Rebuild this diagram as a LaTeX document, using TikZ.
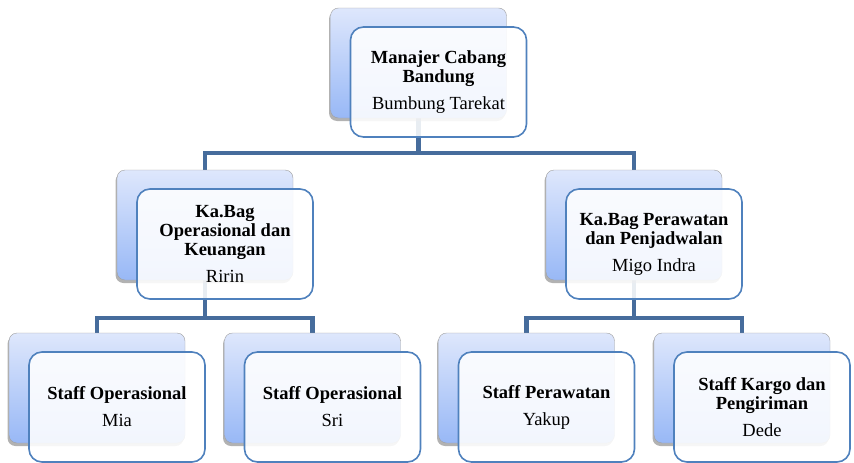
\documentclass[tikz,border=0pt]{standalone}
\usepackage{fontspec}
\setmainfont{Liberation Serif}
\usepackage{tikz}
\usetikzlibrary{calc,backgrounds,shadows}
\definecolor{cLine}  {RGB}{70,108,156}
\definecolor{cBord}  {RGB}{79,129,189}
\definecolor{cBackT} {RGB}{222,231,252}
\definecolor{cBackB} {RGB}{152,184,246}
\tikzset{
  back/.style={draw=gray!75,rounded corners=8pt,minimum width=176pt,minimum height=110pt,
               top color=cBackT,bottom color=cBackB,
               drop shadow={shadow xshift=-1.5pt,shadow yshift=-3pt,opacity=0.55,fill=black!55}}, % rear card
  front/.style={draw=cBord,line width=1.6pt,rounded corners=13pt,minimum width=176pt,
                minimum height=110pt,fill=white,fill opacity=0.88,text opacity=1,
                text width=168pt,align=flush center,font=\fontsize{18.5}{19}\selectfont}, % text card
  conn/.style={draw=cLine,line width=4.5pt},
}
% pair of cards: #1 name #2 x #3 y #4 title #5 person
\newcommand{\orgbox}[5]{%
  \node[back] (#1) at (#2,#3) {};
  \node[front] (#1f) at ([shift={(20,19)}]#1.center) {#4\\[8pt]#5};}
\begin{document}
\begin{tikzpicture}[x=1pt,y=-1pt]
  \useasboundingbox (0,0) rectangle (854,463);
  % ---- cards ----
  \orgbox{b0}{418.5}{63}{\textbf{Manajer Cabang}\\\textbf{Bandung}}{Bumbung Tarekat}
  \orgbox{b1}{205}{225}{\textbf{Ka.Bag}\\\textbf{Operasional dan}\\\textbf{Keuangan}}{Ririn}
  \orgbox{b2}{634}{225}{\textbf{Ka.Bag Perawatan}\\\textbf{dan Penjadwalan}}{Migo Indra}
  \orgbox{b3}{97}{388}{\textbf{Staff Operasional}}{Mia}
  \orgbox{b4}{312.5}{388}{\textbf{Staff Operasional}}{Sri}
  \orgbox{b5}{526.5}{388}{\textbf{Staff Perawatan}}{Yakup}
  \orgbox{b6}{742}{388}{\textbf{Staff Kargo dan}\\\textbf{Pengiriman}}{Dede}

  % ---- connectors (behind the cards) ----
  \coordinate (j0) at (418.5,153);
  \coordinate (j1) at (205,318);
  \coordinate (j2) at (634,318);
  \begin{scope}[on background layer]
    \draw[conn] (b0.center) -- (j0);
    \draw[conn] (b1.north) |- (j0) -| (b2.north);
    \draw[conn] (b1.center) -- (j1);
    \draw[conn] (b3.north) |- (j1) -| (b4.north);
    \draw[conn] (b2.center) -- (j2);
    \draw[conn] (b5.north) |- (j2) -| (b6.north);
  \end{scope}
\end{tikzpicture}
\end{document}
